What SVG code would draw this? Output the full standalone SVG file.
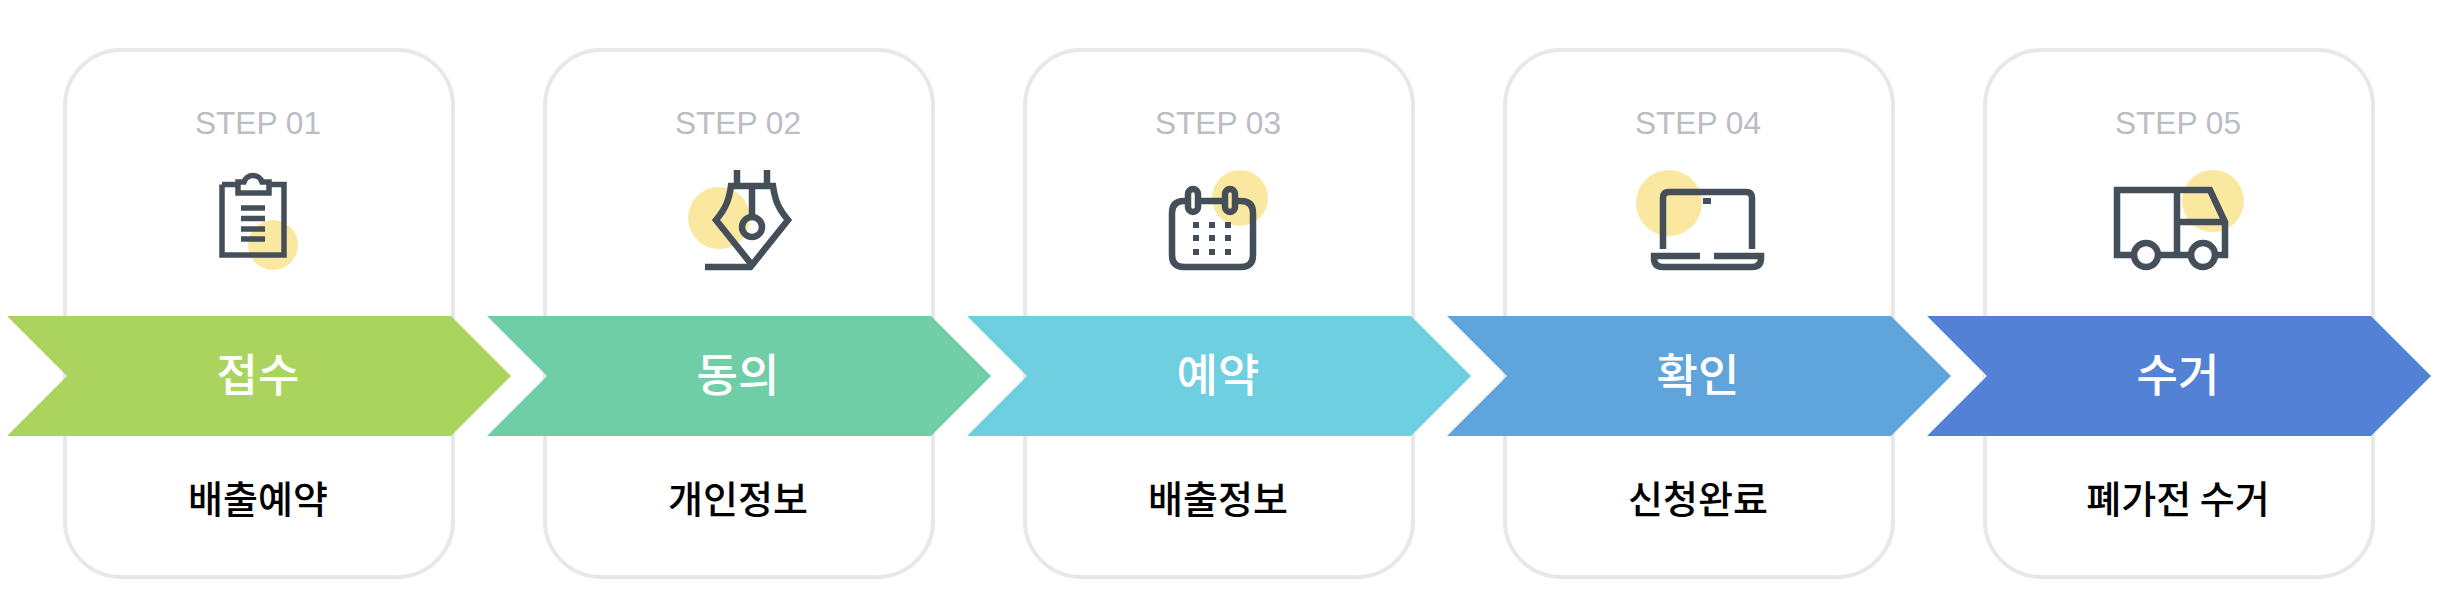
<svg xmlns="http://www.w3.org/2000/svg" width="2440" height="616" viewBox="0 0 2440 616">
<style>
.card{fill:#fff;stroke:#e8e8e8;stroke-width:4}
.step{font:400 31.700px "Liberation Sans",Arial,sans-serif;fill:#b9bdc4;text-anchor:middle}
.title{font:500 45px "Noto Sans CJK KR","Liberation Sans",sans-serif;fill:#fff;text-anchor:middle}
.sub{font:500 38px "Noto Sans CJK KR","Liberation Sans",sans-serif;fill:#000;text-anchor:middle}
.dot{fill:#fbe8a0}
.ic{fill:none;stroke:#444f5a;stroke-width:5.500}
.thick{stroke-width:6.500}
.icf{fill:#444f5a}
</style>
<defs>
<path id="arrow" d="M7 316H451L511 376L451 436H7L67 376Z"/>
<rect id="panel" class="card" x="65" y="50" width="388" height="527" rx="56"/>
</defs>
<rect width="2440" height="616" fill="#fff"/>
<g id="step1">
<use href="#panel"/>
<text class="step" x="258" y="134">STEP 01</text>
<circle class="dot" cx="273" cy="245" r="25"/>
<path class="ic" d="M222 184.500H236M271 184.500H284V255H222V184.500M238 193V182H244A9.500 9.500 0 0 1 262 182H269V193Z"/>
<path class="ic" d="M241 208H265M241 218.500H265M241 229H265M241 239H265"/>
<use href="#arrow" fill="#abd45e"/>
<text class="title" x="258" y="392">접수</text>
<text class="sub" x="258" y="513">배출예약</text>
</g>
<g id="step2">
<use href="#panel" x="480"/>
<text class="step" x="738" y="134">STEP 02</text>
<circle class="dot" cx="719" cy="218" r="31"/>
<path class="ic thick" d="M737 170V186M767 170V186M731 186H773C775 200 778 208 788 220L752 265L716 220C726 208 729 200 731 186ZM752 186V216"/>
<circle class="ic thick" cx="752" cy="227" r="10"/>
<path class="ic thick" d="M705 267H752"/>
<use href="#arrow" x="480" fill="#70cea6"/>
<text class="title" x="738" y="392">동의</text>
<text class="sub" x="738" y="513">개인정보</text>
</g>
<g id="step3">
<use href="#panel" x="960"/>
<text class="step" x="1218" y="134">STEP 03</text>
<circle class="dot" cx="1240" cy="198" r="28"/>
<path class="ic thick" d="M1186 201H1184Q1172 201 1172 213V255Q1172 267 1184 267H1241Q1253 267 1253 255V213Q1253 201 1241 201H1237M1200 201H1223"/>
<rect class="ic thick" x="1188" y="189" width="10" height="23" rx="5"/>
<rect class="ic thick" x="1225" y="189" width="10" height="23" rx="5"/>
<path class="icf" d="M1193 222h6v6h-6zM1209 222h6v6h-6zM1225 222h6v6h-6zM1193 235h6v6h-6zM1209 235h6v6h-6zM1225 235h6v6h-6zM1193 249h6v6h-6zM1209 249h6v6h-6zM1225 249h6v6h-6z"/>
<use href="#arrow" x="960" fill="#6dcfe0"/>
<text class="title" x="1218" y="392">예약</text>
<text class="sub" x="1218" y="513">배출정보</text>
</g>
<g id="step4">
<use href="#panel" x="1440"/>
<text class="step" x="1698" y="134">STEP 04</text>
<circle class="dot" cx="1669" cy="203" r="33"/>
<path class="ic thick" d="M1663 249V198Q1663 192 1669 192H1746Q1752 192 1752 198V249"/>
<rect class="icf" x="1703" y="198" width="8" height="6"/>
<path class="ic thick" d="M1700 256H1654V258Q1654 267 1663 267H1752Q1761 267 1761 258V256H1714"/>
<use href="#arrow" x="1440" fill="#5fa5db"/>
<text class="title" x="1698" y="392">확인</text>
<text class="sub" x="1698" y="513">신청완료</text>
</g>
<g id="step5">
<use href="#panel" x="1920"/>
<text class="step" x="2178" y="134">STEP 05</text>
<circle class="dot" cx="2213" cy="201" r="31"/>
<path class="ic thick" d="M2134 255H2117V190H2210L2225 222V255H2215M2191 255H2158M2177 190V255M2177 222H2225"/>
<circle class="ic thick" cx="2146" cy="255" r="12"/>
<circle class="ic thick" cx="2203" cy="255" r="12"/>
<use href="#arrow" x="1920" fill="#5381d6"/>
<text class="title" x="2178" y="392">수거</text>
<text class="sub" x="2178" y="513">폐가전 수거</text>
</g>
<g id="connectors"/>
</svg>
